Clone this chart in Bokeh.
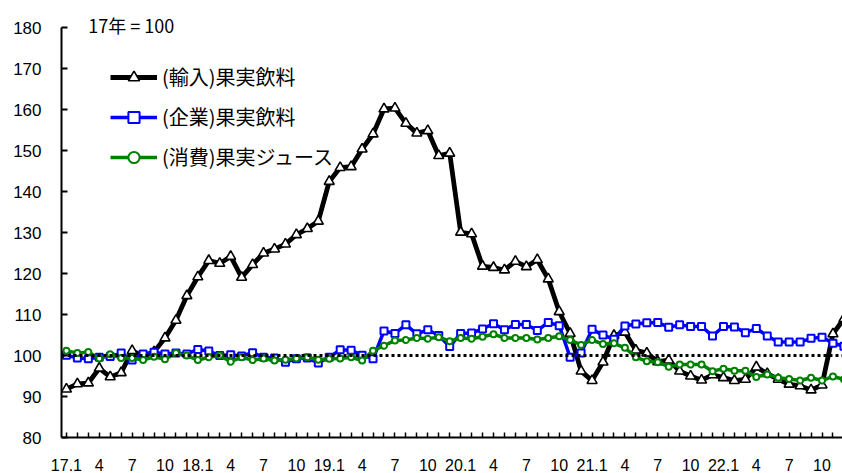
from bokeh.plotting import figure
from bokeh.models import FixedTicker, Span, Label, Legend, LegendItem, Range1d
from bokeh.embed import file_html
from bokeh.resources import INLINE

# ---- data (2017.1 - 2022.12, monthly, 2017 = 100) ----
years = [17, 18, 19, 20, 21, 22]
months = list(range(1, 13))
tick_labels = []
for yy in years:
    for mm in months:
        if mm == 1:
            tick_labels.append(f"{yy}.1")
        elif mm in (4, 7, 10):
            tick_labels.append(str(mm))
        else:
            tick_labels.append("")

imported = [91.8, 93.1, 93.3, 96.9, 94.8, 95.8, 101.2, 99.8, 100.9, 104.3, 108.6, 114.6,
            119.2, 123.2, 122.5, 124.2, 119.1, 122.2, 125.0, 126.0, 127.2, 129.5, 131.0, 132.8,
            142.5, 145.9, 146.1, 150.4, 154.1, 160.2, 160.4, 156.7, 154.3, 154.9, 148.8, 149.4,
            130.1, 129.7, 121.8, 121.5, 120.9, 123.0, 121.7, 123.4, 118.7, 110.7, 105.4, 96.2,
            93.9, 98.4, 104.9, 105.7, 101.3, 100.6, 98.5, 98.9, 96.2, 95.0, 94.0, 95.3,
            94.6, 93.9, 94.2, 97.2, 95.6, 94.2, 93.0, 92.6, 91.6, 92.8, 105.3, 109.0]

corporate = [100.1, 99.4, 99.2, 99.6, 99.8, 100.6, 98.9, 100.4, 100.8, 100.4, 100.6, 100.4,
             101.5, 101.1, 100.0, 100.2, 99.9, 100.7, 99.6, 99.4, 98.4, 99.2, 99.4, 98.2,
             99.6, 101.4, 101.3, 100.1, 99.2, 106.0, 105.4, 107.5, 105.3, 106.3, 104.9, 102.2,
             105.4, 105.5, 106.5, 107.8, 106.3, 107.6, 107.6, 106.1, 108.1, 107.3, 99.6, 100.6,
             106.4, 105.0, 104.0, 107.2, 107.7, 108.0, 108.1, 106.9, 107.5, 107.1, 107.1, 104.8,
             107.1, 107.0, 105.6, 106.6, 104.8, 103.3, 103.3, 103.3, 104.2, 104.5, 103.0, 102.3]

consumer = [101.2, 100.6, 100.9, 99.3, 100.3, 99.4, 99.4, 98.9, 99.7, 99.1, 100.6, 100.0,
            98.9, 99.6, 100.0, 98.5, 99.6, 98.9, 99.3, 98.8, 99.0, 99.3, 99.6, 99.0,
            99.2, 99.3, 99.6, 98.8, 101.2, 102.4, 103.7, 103.8, 104.3, 104.1, 104.5, 103.5,
            104.3, 104.1, 104.6, 105.2, 104.3, 104.3, 104.3, 103.9, 104.3, 104.7, 103.8, 102.6,
            103.8, 102.8, 103.0, 101.9, 99.6, 98.6, 98.4, 97.3, 97.8, 97.8, 97.8, 96.2,
            96.8, 96.3, 96.3, 94.8, 95.4, 94.6, 94.3, 93.9, 94.6, 93.9, 94.9, 94.2]

series_names = ["(輸入)果実飲料", "(企業)果実飲料", "(消費)果実ジュース"]
y_ticks = [80, 90, 100, 110, 120, 130, 140, 150, 160, 170, 180]
base_note = "17年 = 100"

x = list(range(len(tick_labels)))

CJK = "Noto Sans CJK JP"
NUM = "Liberation Sans"

p = figure(width=842, height=473, output_backend="svg", toolbar_location=None,
           x_range=Range1d(-0.45, 70.87), y_range=Range1d(80, 184),
           min_border_left=61, min_border_right=0, min_border_top=11, min_border_bottom=36)
p.xgrid.visible = False
p.ygrid.visible = False
p.outline_line_color = None
p.background_fill_color = "white"
p.border_fill_color = "white"

# y axis
ya = p.yaxis[0]
ya.ticker = FixedTicker(ticks=y_ticks)
ya.bounds = (80, 180)
ya.major_tick_in = 6
ya.major_tick_out = 0
ya.minor_tick_in = 0
ya.minor_tick_out = 0
ya.axis_line_width = 2
ya.major_tick_line_width = 2
ya.axis_line_color = "black"
ya.major_tick_line_color = "black"
ya.major_label_text_font = NUM
ya.major_label_text_font_size = "17px"
ya.major_label_text_color = "black"
ya.major_label_standoff = 20

# x axis
xa = p.xaxis[0]
xa.ticker = FixedTicker(ticks=x)
xa.major_label_overrides = {i: t for i, t in zip(x, tick_labels)}
xa.major_tick_in = 5
xa.major_tick_out = 0
xa.minor_tick_in = 0
xa.minor_tick_out = 0
xa.axis_line_width = 2
xa.major_tick_line_width = 1.5
xa.axis_line_color = "black"
xa.major_tick_line_color = "black"
xa.major_label_text_font = NUM
xa.major_label_text_font_size = "16px"
xa.major_label_text_color = "black"
xa.major_label_standoff = 21

# series
l1 = p.line(x, imported, line_color="black", line_width=4.8)
s1 = p.scatter(x, imported, marker="triangle", size=10, fill_color="white",
               line_color="black", line_width=1.6)
l2 = p.line(x, corporate, line_color="#0000FF", line_width=3.5)
s2 = p.scatter(x, corporate, marker="square", size=7, fill_color="white",
               line_color="#0000FF", line_width=2)
l3 = p.line(x, consumer, line_color="#008000", line_width=3.5)
s3 = p.scatter(x, consumer, marker="circle", size=6, fill_color="white",
               line_color="#008000", line_width=2)

# reference line at 100
p.add_layout(Span(location=100, dimension="width", line_color="black",
                  line_width=3, line_dash="3 3"))

# note
p.add_layout(Label(x=2.0, y=180.6, text=base_note, text_font=CJK,
                   text_font_size="18px", text_color="black",
                   text_align="left", text_baseline="middle"))

legend = Legend(items=[LegendItem(label=series_names[0], renderers=[l1, s1]),
                       LegendItem(label=series_names[1], renderers=[l2, s2]),
                       LegendItem(label=series_names[2], renderers=[l3, s3])],
                location=(49, 266), orientation="vertical",
                glyph_width=47, glyph_height=28, label_height=28,
                label_standoff=5, spacing=11, padding=0, margin=0,
                label_text_font=CJK, label_text_font_size="20px",
                label_text_color="black",
                border_line_alpha=0, background_fill_alpha=0)
p.add_layout(legend)

open("out.html", "w").write(file_html(p, INLINE))
